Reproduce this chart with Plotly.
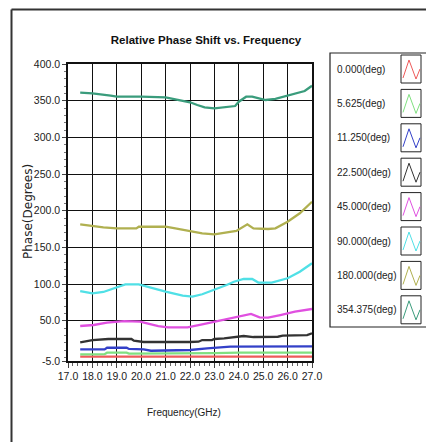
import plotly.graph_objects as go

# ---------------- data ----------------
labels = ["0.000(deg)", "5.625(deg)", "11.250(deg)", "22.500(deg)",
          "45.000(deg)", "90.000(deg)", "180.000(deg)", "354.375(deg)"]

f_000 = [17.5, 18.5, 19.0, 20.0, 21.0, 22.0, 23.0, 24.0, 25.0, 26.0, 27.0]
p_000 = [1.0, 1.0, 0.6, 0.5, 0.5, 0.5, 0.8, 1.0, 1.0, 1.0, 1.0]

f_005 = [17.5, 18.5, 18.6, 19.4, 19.5, 22.5, 23.0, 24.0, 27.0]
p_005 = [4.0, 4.3, 6.3, 6.3, 5.0, 5.0, 5.8, 6.3, 6.5]

f_011 = [17.5, 18.5, 18.6, 19.4, 19.5, 20.1, 20.4, 21.6, 22.0, 22.7, 23.0, 23.65, 27.0]
p_011 = [10.9, 10.9, 13.1, 13.1, 11.4, 10.9, 9.0, 9.0, 10.0, 12.3, 12.7, 14.5, 15.0]

f_022 = [17.5, 17.75, 18.0, 18.65, 19.6, 19.7, 20.1, 22.0, 22.35, 22.5, 22.9,
         23.0, 23.4, 24.2, 24.6, 25.6, 25.8, 26.8, 27.0]
p_022 = [20.5, 22.3, 23.6, 25.0, 25.0, 22.7, 20.9, 20.9, 21.3, 23.6, 23.6,
         25.0, 25.9, 29.1, 27.7, 28.1, 29.5, 30.4, 32.8]

f_045 = [17.5, 18.05, 18.6, 19.3, 19.95, 20.7, 21.1, 21.9, 22.5, 23.0, 23.6,
         24.1, 24.5, 24.85, 25.2, 25.7, 26.3, 27.0]
p_045 = [42.7, 44.1, 47.2, 49.5, 48.6, 42.7, 40.9, 40.9, 45.0, 48.6, 53.2,
         56.4, 59.1, 54.6, 54.1, 57.7, 62.2, 65.9]

f_090 = [17.5, 18.0, 18.45, 19.0, 19.35, 19.9, 20.45, 21.0, 21.7, 22.1, 22.5,
         23.0, 23.5, 23.8, 24.2, 24.55, 24.8, 25.35, 26.0, 26.5, 27.0]
p_090 = [90.4, 87.3, 89.1, 95.0, 99.6, 99.6, 94.1, 89.5, 84.0, 82.7, 86.0,
         91.8, 98.6, 103.1, 106.8, 106.8, 101.9, 101.9, 107.8, 116.8, 128.3]

f_180 = [17.5, 18.0, 18.45, 19.0, 19.8, 19.9, 21.0, 21.4, 22.0, 22.5, 23.0,
         23.5, 23.9, 24.35, 24.6, 25.2, 25.5, 26.0, 26.5, 27.0]
p_180 = [181.4, 179.1, 177.3, 175.9, 175.9, 178.1, 178.1, 175.9, 172.3, 169.1, 167.8,
         170.5, 172.3, 181.4, 175.9, 175.0, 175.9, 184.9, 196.4, 212.2]

f_354 = [17.5, 18.0, 18.75, 19.0, 20.0, 21.0, 21.4, 22.0, 22.3, 22.6, 23.0,
         23.5, 23.85, 24.0, 24.3, 24.55, 24.9, 25.1, 25.5, 26.0, 26.3, 26.7, 27.0]
p_354 = [360.9, 360.0, 356.8, 355.4, 355.4, 354.6, 351.9, 347.8, 344.1, 341.0, 339.6,
         341.0, 342.7, 348.6, 355.4, 355.4, 352.3, 350.9, 352.3, 356.8, 360.0, 363.2, 370.4]

freqs = [f_000, f_005, f_011, f_022, f_045, f_090, f_180, f_354]
phases = [p_000, p_005, p_011, p_022, p_045, p_090, p_180, p_354]

x_ticks = [17, 18, 19, 20, 21, 22, 23, 24, 25, 26, 27]
x_ticktext = ["17.0", "18.0", "19.0", "20.0", "21.0", "22.0", "23.0", "24.0", "25.0", "26.0", "27.0"]
y_ticks = [-5, 50, 100, 150, 200, 250, 300, 350, 400]
y_ticktext = ["-5.0", "50.0", "100.0", "150.0", "200.0", "250.0", "300.0", "350.0", "400.0"]

# ---------------- style ----------------
colors = ["#ee5a5a", "#80e080", "#3340c8", "#333333",
          "#e050e0", "#50e0e6", "#b0b050", "#3a9c7c"]
FONT = "Liberation Sans Narrow, Arial Narrow, Liberation Sans, Arial, sans-serif"

OFF = 8  # page body margin: figure is drawn 8px right/down in the page
W, H = 434 - OFF, 443 - OFF
# plot area in page pixels
PL, PR, PT, PB = 68, 312, 64, 361
L, R, T, B = PL - OFF, PR - OFF, PT - OFF, PB - OFF


def px(xp):
    """page x pixel -> paper coordinate"""
    return (xp - PL) / (PR - PL)


def py(yp):
    """page y pixel -> paper coordinate"""
    return (PB - yp) / (PB - PT)


fig = go.Figure()
for f, p, c, name in zip(freqs, phases, colors, labels):
    fig.add_trace(go.Scatter(x=f, y=p, mode="lines", name=name,
                             line=dict(color=c, width=2.3), showlegend=False))

fig.update_layout(
    width=W, height=H, autosize=False,
    margin=dict(l=L, r=W - R, t=T, b=H - B, autoexpand=False),
    paper_bgcolor="white", plot_bgcolor="white",
    font=dict(family=FONT, size=10, color="#222"),
    title=dict(text="<b>Relative Phase Shift vs. Frequency</b>",
               x=(206 - OFF) / W, xanchor="center", y=1 - (40 - OFF) / H, yanchor="middle",
               font=dict(family=FONT, size=11.5, color="#111")),
)
fig.update_xaxes(range=[17, 27], tickvals=x_ticks, ticktext=x_ticktext, tickangle=0,
                 automargin=False,
                 showgrid=True, gridcolor="#111", gridwidth=1.4,
                 showline=True, linecolor="#111", linewidth=1.5, mirror=True,
                 ticks="outside", ticklen=5, tickcolor="#444", zeroline=False,
                 tickfont=dict(size=10.5, color="#222"),
                 minor=dict(dtick=0.2, tick0=17, ticks="outside", ticklen=3,
                            tickcolor="#666", showgrid=False))
fig.update_yaxes(range=[-5, 400], tickvals=y_ticks, ticktext=y_ticktext,
                 automargin=False,
                 showgrid=True, gridcolor="#111", gridwidth=1.4,
                 showline=True, linecolor="#111", linewidth=1.5, mirror=True,
                 ticks="outside", ticklen=4, tickcolor="#444", zeroline=False,
                 tickfont=dict(size=10.5, color="#222"),
                 minor=dict(dtick=10, tick0=0, ticks="outside", ticklen=2,
                            tickcolor="#777", showgrid=False))

annotations = [
    dict(text="Phase(Degrees)", xref="paper", yref="paper", x=px(28), y=py(212),
         textangle=-90, showarrow=False, xanchor="center", yanchor="middle",
         font=dict(family="DejaVu Sans, Verdana, sans-serif", size=12, color="#222")),
    dict(text="Frequency(GHz)", xref="paper", yref="paper", x=px(184), y=py(412),
         showarrow=False, xanchor="center", yanchor="middle",
         font=dict(family=FONT, size=10, color="#222")),
]

shapes = [
    # outer frame (left and top edges)
    dict(type="line", xref="paper", yref="paper", x0=px(11.5), x1=px(11.5), y0=py(9.5), y1=py(442),
         line=dict(color="#333333", width=2), layer="above"),
    dict(type="line", xref="paper", yref="paper", x0=px(11.5), x1=px(433), y0=py(9.5), y1=py(9.5),
         line=dict(color="#333333", width=2), layer="above"),
    # legend frame
    dict(type="rect", xref="paper", yref="paper", x0=px(330), x1=px(429), y0=py(53), y1=py(327),
         line=dict(color="#222", width=1.2), fillcolor="white", layer="below"),
]

leg_top, leg_step = 69, 34.4
for i, (name, c) in enumerate(zip(labels, colors)):
    cy = leg_top + i * leg_step
    annotations.append(dict(text=name, xref="paper", yref="paper", x=px(335), y=py(cy),
                            showarrow=False, xanchor="left", yanchor="middle",
                            font=dict(family=FONT, size=10, color="#222")))
    bx0, bx1, by0, by1 = 401, 421, cy - 14, cy + 14
    shapes.append(dict(type="rect", xref="paper", yref="paper", x0=px(bx0), x1=px(bx1),
                       y0=py(by0), y1=py(by1), line=dict(color="#222", width=1)))
    pts = [(bx0 + 2, by1 - 5), (bx0 + 8, by0 + 5), (bx0 + 15, by1 - 4), (bx0 + 19, by0 + 14)]
    path = "M " + " L ".join(f"{px(a):.5f},{py(b):.5f}" for a, b in pts)
    shapes.append(dict(type="path", xref="paper", yref="paper", path=path,
                       line=dict(color=c, width=1)))

fig.update_layout(annotations=annotations, shapes=shapes)
fig.write_html("out.html")
